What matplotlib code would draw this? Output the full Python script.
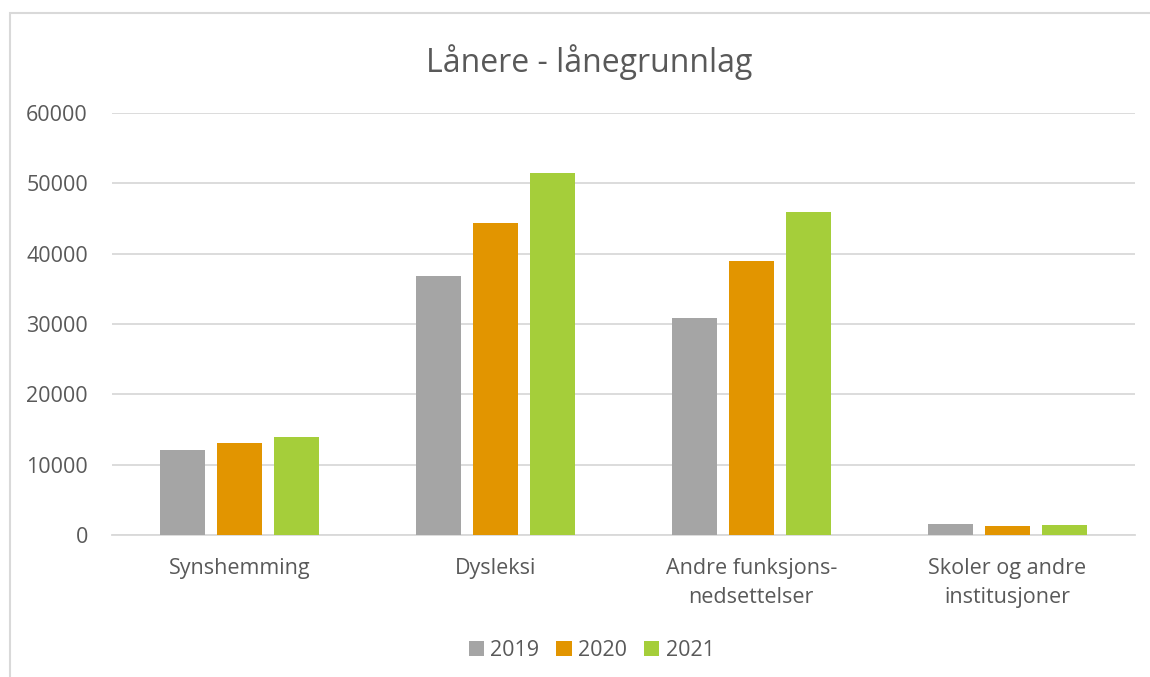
import numpy as np
import matplotlib.pyplot as plt
from matplotlib.patches import Rectangle

categories = ['Synshemming', 'Dysleksi', 'Andre funksjons-\nnedsettelser', 'Skoler og andre\ninstitusjoner']
years = ['2019', '2020', '2021']
v2019 = [12100, 36800, 30800, 1550]
v2020 = [13000, 44400, 39000, 1200]
v2021 = [13900, 51500, 45900, 1350]
colors = ['#A5A5A5', '#E29500', '#A5CE3A']

plt.rcParams['font.family'] = ['Open Sans', 'DejaVu Sans']

fig = plt.figure(figsize=(11.5, 6.77), dpi=100)
ax = fig.add_axes([0.097, 0.210, 0.890, 0.623])

x = np.arange(len(categories))
w = 0.176
step = 0.223
for i, (vals, yr) in enumerate(zip([v2019, v2020, v2021], years)):
    ax.bar(x + (i - 1) * step, vals, w, color=colors[i], label=yr, zorder=3)

ax.set_xlim(-0.5, 3.5)
ax.set_ylim(0, 60000)
ax.set_yticks(range(0, 60001, 10000))
ax.yaxis.grid(True, color='#D9D9D9', lw=1.3, zorder=0)
for s in ['top', 'right', 'left']:
    ax.spines[s].set_visible(False)
ax.spines['bottom'].set_color('#D9D9D9')
ax.spines['bottom'].set_linewidth(1.3)
ax.tick_params(axis='both', length=0, labelsize=15.5, colors='#595959')
ax.tick_params(axis='y', pad=17)
ax.tick_params(axis='x', pad=17)
ax.set_xticks(x)
ax.set_xticklabels(categories, linespacing=1.5)

fig.text(0.512, 0.908, 'Lånere - lånegrunnlag', ha='center', va='center', fontsize=23, color='#595959')

ax.legend(loc='center', bbox_to_anchor=(0.469, -0.274), ncol=3, frameon=False,
          fontsize=15.5, labelcolor='#595959', handlelength=0.7, handleheight=0.7,
          handletextpad=0.3, columnspacing=0.8)

fig.patches.append(Rectangle((10 / 1150, -0.1), 1.2, 1 - 13 / 677 + 0.1, transform=fig.transFigure,
                             fill=False, edgecolor='#D9D9D9', lw=1.5))

fig.savefig('out.png', dpi=100)
